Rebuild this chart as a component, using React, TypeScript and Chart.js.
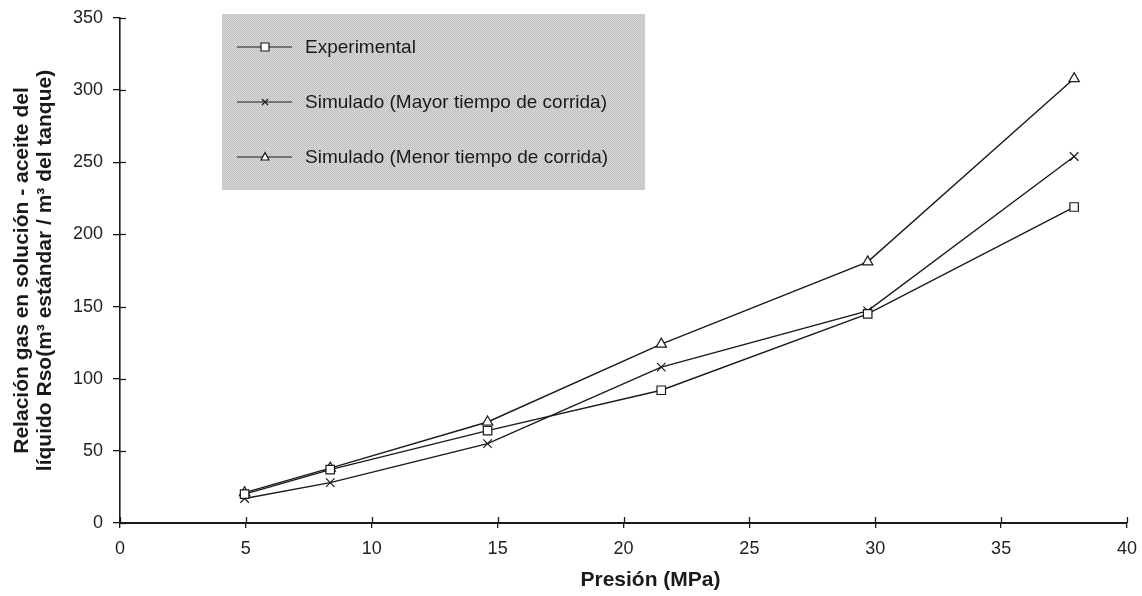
import React, { useEffect, useRef } from 'react';
import { Chart, registerables } from 'chart.js';

Chart.register(...registerables);

// ---- Data ----
const pressure = [4.95, 8.35, 14.6, 21.5, 29.7, 37.9];
const experimental = [20, 37, 64, 92, 145, 219];
const simMayor = [17, 28, 55, 108, 147, 254];
const simMenor = [21, 38, 70, 124, 181, 308];
const seriesLabels = [
  'Experimental',
  'Simulado (Mayor tiempo de corrida)',
  'Simulado (Menor tiempo de corrida)',
];
const seriesMarkers = ['rect', 'crossRot', 'triangle'];
const xTicks = [0, 5, 10, 15, 20, 25, 30, 35, 40];
const yTicks = [0, 50, 100, 150, 200, 250, 300, 350];
const xTitle = 'Presión (MPa)';
const yTitle = [
  'Relación gas en solución - aceite del',
  'líquido Rso(m³ estándar / m³ del tanque)',
];

const FONT = '"Liberation Sans", Arial, Helvetica, sans-serif';
const INK = '#1a1a1a';

function drawMarker(ctx: CanvasRenderingContext2D, kind: string, x: number, y: number, r: number) {
  ctx.save();
  ctx.strokeStyle = INK;
  ctx.fillStyle = '#ffffff';
  ctx.lineWidth = 1.2;
  ctx.beginPath();
  if (kind === 'rect') {
    ctx.rect(x - r, y - r, 2 * r, 2 * r);
    ctx.fill();
    ctx.stroke();
  } else if (kind === 'triangle') {
    ctx.moveTo(x, y - r * 1.1);
    ctx.lineTo(x + r, y + r * 0.75);
    ctx.lineTo(x - r, y + r * 0.75);
    ctx.closePath();
    ctx.fill();
    ctx.stroke();
  } else {
    ctx.moveTo(x - r, y - r);
    ctx.lineTo(x + r, y + r);
    ctx.moveTo(x + r, y - r);
    ctx.lineTo(x - r, y + r);
    ctx.stroke();
  }
  ctx.restore();
}

function makePattern(ctx: CanvasRenderingContext2D) {
  const c = document.createElement('canvas');
  c.width = 2;
  c.height = 2;
  const p = c.getContext('2d')!;
  p.fillStyle = '#c2c2c2';
  p.fillRect(0, 0, 2, 2);
  p.fillStyle = '#d6d6d6';
  p.fillRect(1, 0, 1, 1);
  p.fillRect(0, 1, 1, 1);
  return ctx.createPattern(c, 'repeat') || '#cbcbcb';
}

const boxLegend = {
  id: 'boxLegend',
  afterDraw(chart: any) {
    const ctx: CanvasRenderingContext2D = chart.ctx;
    const { left, top, bottom } = chart.chartArea;
    const xs = chart.scales.x;
    const ys = chart.scales.y;
    ctx.save();
    // inward tick marks (ticks cross the axes)
    ctx.strokeStyle = INK;
    ctx.lineWidth = 1.3;
    xTicks.forEach((v) => {
      const px = Math.round(xs.getPixelForValue(v)) + 0.5;
      ctx.beginPath();
      ctx.moveTo(px, bottom);
      ctx.lineTo(px, bottom - 6);
      ctx.stroke();
    });
    yTicks.forEach((v) => {
      const py = Math.round(ys.getPixelForValue(v)) + 0.5;
      ctx.beginPath();
      ctx.moveTo(left, py);
      ctx.lineTo(left + 6, py);
      ctx.stroke();
    });

    // x-axis title (sits right of centre in the reference)
    ctx.fillStyle = INK;
    ctx.font = `bold 21px ${FONT}`;
    ctx.textAlign = 'center';
    ctx.textBaseline = 'middle';
    ctx.fillText(xTitle, (left + chart.chartArea.right) / 2 + 27, bottom + 57);

    // legend box
    const bx = left + 102;
    const by = top - 4;
    const bw = 423;
    const bh = 176;
    ctx.fillStyle = makePattern(ctx) as any;
    ctx.fillRect(bx, by, bw, bh);
    ctx.font = `19px ${FONT}`;
    ctx.textBaseline = 'middle';
    ctx.textAlign = 'left';
    chart.data.datasets.forEach((ds: any, i: number) => {
      const ry = by + 33 + i * 55;
      ctx.strokeStyle = INK;
      ctx.lineWidth = 1.2;
      ctx.beginPath();
      ctx.moveTo(bx + 15, ry);
      ctx.lineTo(bx + 70, ry);
      ctx.stroke();
      drawMarker(ctx, seriesMarkers[i], bx + 43, ry, i === 1 ? 3 : 4);
      ctx.fillStyle = INK;
      ctx.fillText(ds.label, bx + 83, ry + 1);
    });
    ctx.restore();
  },
};

export default function App() {
  const ref = useRef<HTMLCanvasElement | null>(null);

  useEffect(() => {
    if (!ref.current) return;
    const mk = (vals: number[]) => pressure.map((x, i) => ({ x, y: vals[i] }));
    const series = [experimental, simMayor, simMenor];
    const chart = new Chart(ref.current, {
      type: 'line',
      data: {
        datasets: series.map((vals, i) => ({
          label: seriesLabels[i],
          data: mk(vals),
          borderColor: INK,
          borderWidth: 1.4,
          backgroundColor: '#ffffff',
          pointStyle: seriesMarkers[i] as any,
          pointRadius: 6,
          pointBorderWidth: 1.2,
          pointBorderColor: INK,
          pointBackgroundColor: '#ffffff',
          tension: 0,
          fill: false,
        })),
      },
      options: {
        responsive: false,
        animation: false,
        layout: { padding: { top: 18, right: 15, left: 0, bottom: 0 } },
        plugins: {
          legend: { display: false },
          tooltip: { enabled: false },
        },
        scales: {
          x: {
            type: 'linear',
            min: 0,
            max: 40,
            afterFit: (s: any) => {
              s.height = 73;
              s.paddingLeft = 0;
              s.paddingRight = 0;
            },
            afterBuildTicks: (s: any) => {
              s.ticks = xTicks.map((v) => ({ value: v }));
            },
            border: { display: true, color: INK, width: 2 },
            grid: { drawOnChartArea: false, drawTicks: true, tickLength: 5, color: INK, lineWidth: 1.3 },
            ticks: { color: '#222', font: { family: FONT, size: 18 }, padding: 10, maxRotation: 0 },
            title: { display: false },
          },
          y: {
            type: 'linear',
            min: 0,
            max: 350,
            afterFit: (s: any) => {
              s.width = 120;
              s.paddingTop = 0;
              s.paddingBottom = 0;
            },
            afterBuildTicks: (s: any) => {
              s.ticks = yTicks.map((v) => ({ value: v }));
            },
            border: { display: true, color: INK, width: 1.6 },
            grid: { drawOnChartArea: false, drawTicks: true, tickLength: 7, color: INK, lineWidth: 1.3 },
            ticks: { color: '#222', font: { family: FONT, size: 18 }, padding: 10 },
            title: {
              display: true,
              text: yTitle,
              color: INK,
              font: { family: FONT, size: 21, weight: 'bold', lineHeight: 1.12 },
              padding: { top: 10, bottom: 0 },
            },
          },
        },
      },
      plugins: [boxLegend],
    });
    return () => chart.destroy();
  }, []);

  return (
    <div style={{ position: 'absolute', left: 0, top: 0, width: 1142, height: 596, background: '#ffffff' }}>
      <canvas ref={ref} width={1142} height={596} style={{ display: 'block' }} />
    </div>
  );
}
